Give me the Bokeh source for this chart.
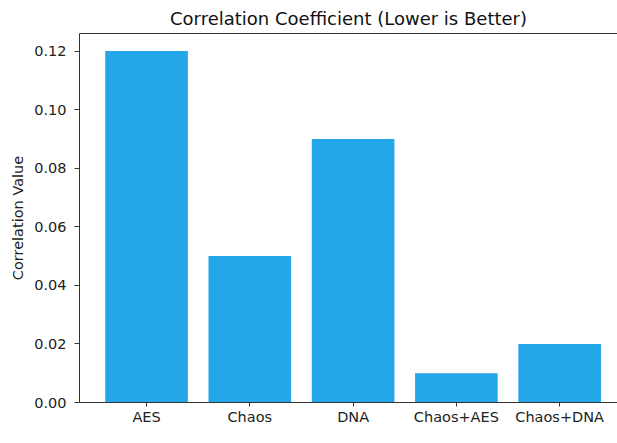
from bokeh.plotting import figure
from bokeh.models import Range1d, FixedTicker, LinearAxis, Label
from bokeh.embed import file_html
from bokeh.resources import INLINE

methods = ["AES", "Chaos", "DNA", "Chaos+AES", "Chaos+DNA"]
correlation = [0.12, 0.05, 0.09, 0.01, 0.02]
y_ticks = [0.0, 0.02, 0.04, 0.06, 0.08, 0.10, 0.12]

positions = list(range(len(methods)))

p = figure(width=617, height=443, output_backend="svg", toolbar_location=None,
           x_range=Range1d(-0.649, 4.56), y_range=Range1d(0, 0.126),
           min_border_left=79, min_border_right=0, min_border_top=31, min_border_bottom=41,
           title="Correlation Coefficient (Lower is Better)")

p.vbar(x=positions, top=correlation, width=0.8, color="#23A7E8", line_color=None)

font = "DejaVu Sans"
p.title.text_font = font
p.title.text_font_size = "18px"
p.title.text_font_style = "normal"
p.title.align = "center"
p.title.text_color = "#111111"

p.outline_line_color = None
p.grid.visible = False
p.background_fill_color = "white"
p.border_fill_color = "white"

xa = p.below[0]
ya = p.left[0]

for ax in (xa, ya):
    ax.axis_line_color = "#333333"
    ax.major_tick_line_color = "#333333"
    ax.minor_tick_line_color = None
    ax.major_tick_in = 0
    ax.major_label_text_font = font
    ax.major_label_text_font_size = "14.5px"
    ax.major_label_text_color = "#222222"
    ax.axis_label_text_font = font
    ax.axis_label_text_font_size = "14.5px"
    ax.axis_label_text_font_style = "normal"
    ax.axis_label_text_color = "#222222"

xa.ticker = FixedTicker(ticks=positions)
xa.major_label_overrides = {i: m for i, m in enumerate(methods)}
xa.major_tick_out = 4
xa.major_label_standoff = 2

ya.ticker = FixedTicker(ticks=y_ticks)
ya.major_label_overrides = {t: f"{t:.2f}" for t in y_ticks}
ya.major_tick_out = 5
ya.major_label_standoff = 8
ya.axis_label = "Correlation Value"
ya.axis_label_standoff = 5

top = LinearAxis(major_tick_line_color=None, minor_tick_line_color=None,
                 major_label_text_font_size="0px", axis_line_color="#333333",
                 major_tick_out=0, major_tick_in=0, major_label_standoff=0,
                 ticker=FixedTicker(ticks=[]))
p.add_layout(top, "above")

xlabel = Label(x=273, y=-33, x_units="screen", y_units="screen",
               text="Encryption Method", text_align="center", text_baseline="alphabetic",
               text_font=font, text_font_size="14.5px", text_color="#222222")
p.add_layout(xlabel)

open("out.html", "w").write(file_html(p, INLINE))
